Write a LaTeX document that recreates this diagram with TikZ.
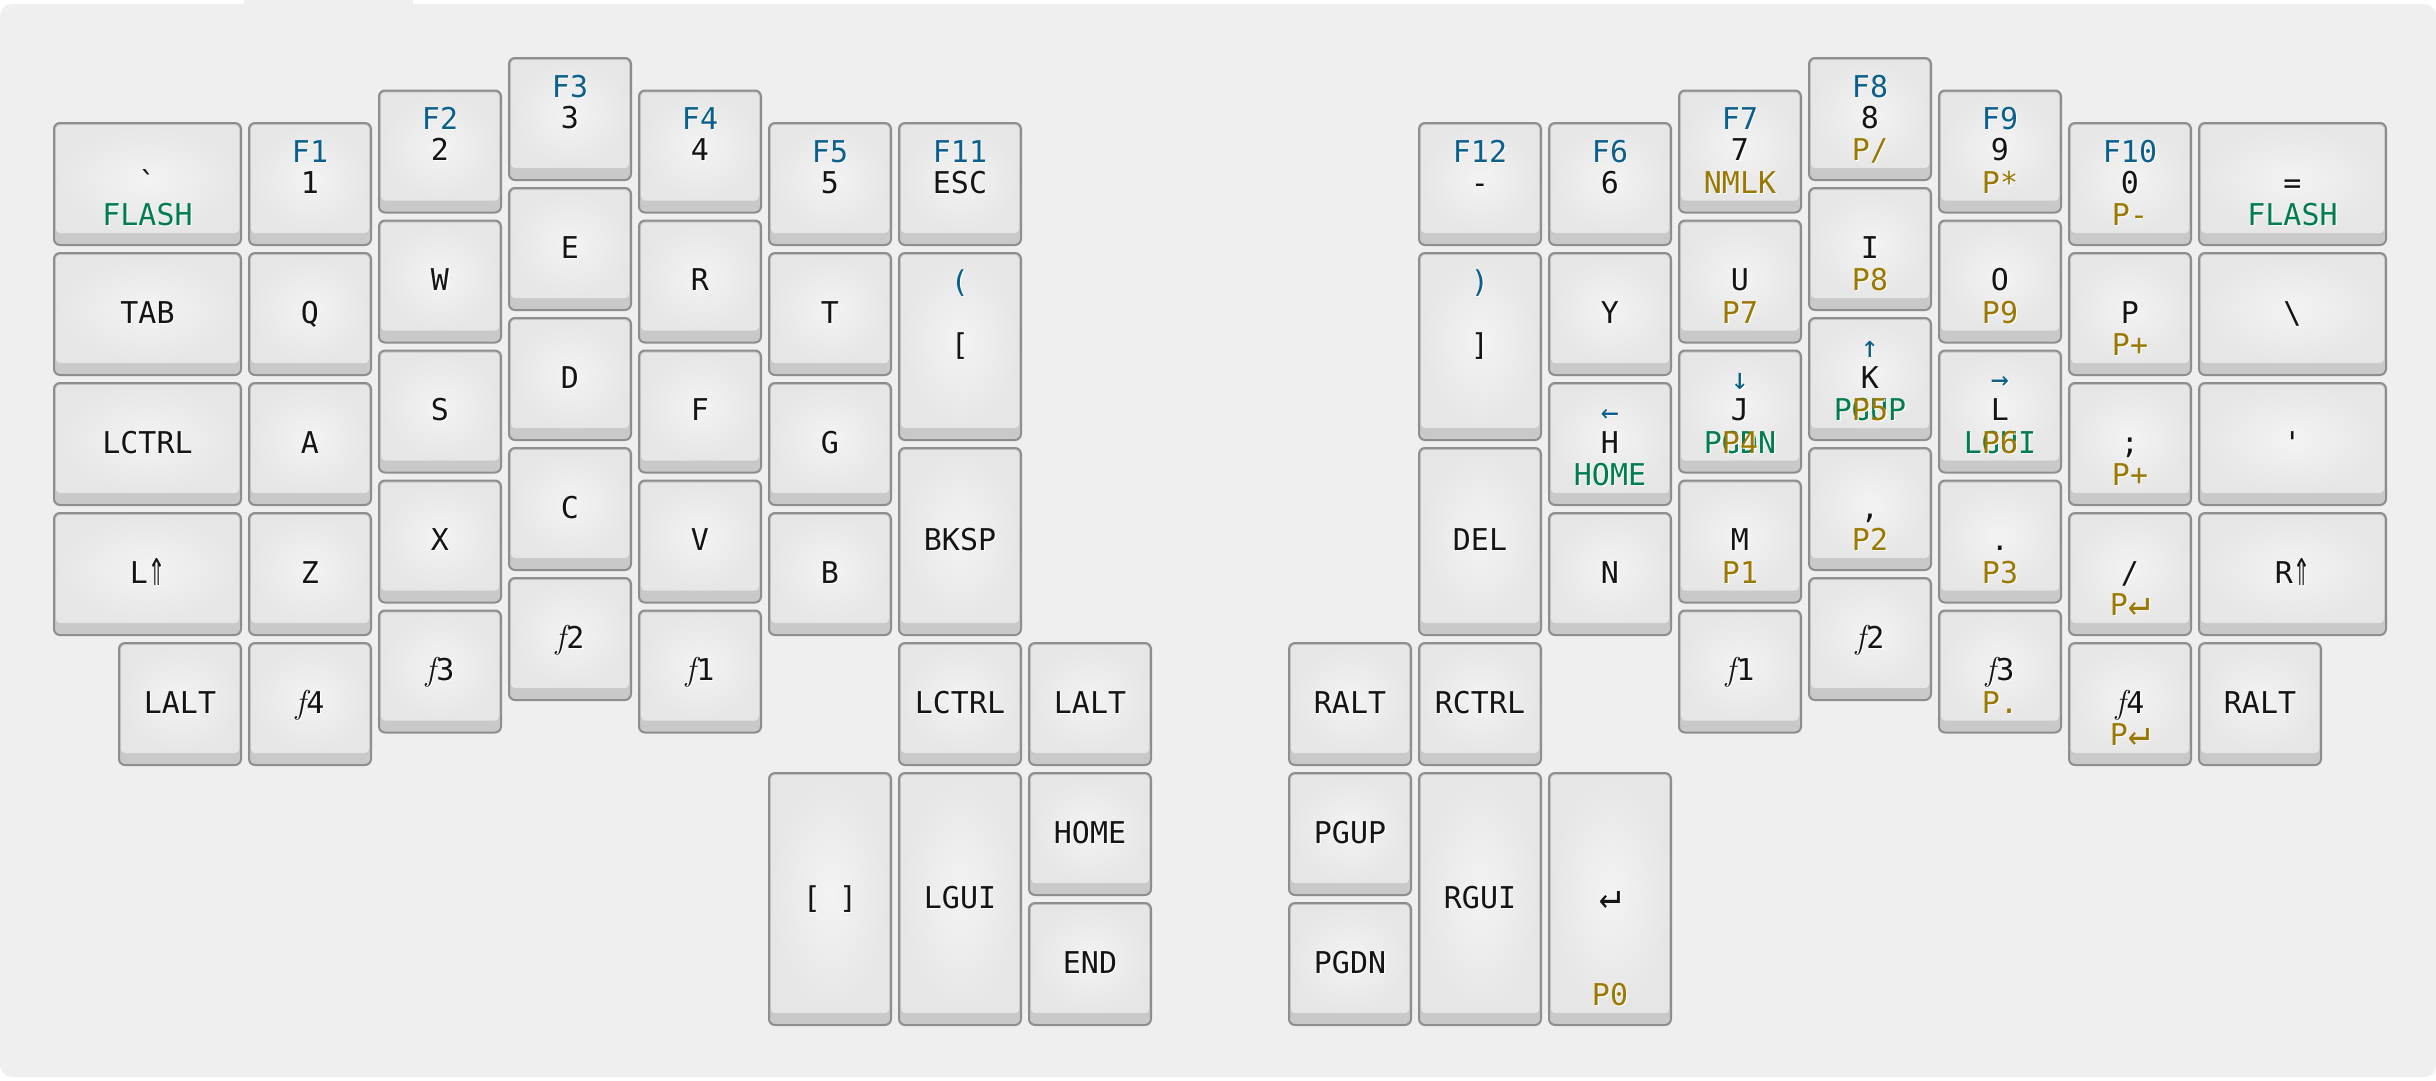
\documentclass[tikz,border=0pt]{standalone}
\usepackage{fontspec}
\setmonofont{DejaVu Sans Mono}
\definecolor{bgc}{RGB}{239,239,239}
\definecolor{keyborder}{RGB}{142,142,142}
\definecolor{bevel}{RGB}{201,201,201}
\definecolor{facein}{RGB}{243,243,243}
\definecolor{faceout}{RGB}{230,230,230}
\definecolor{keytext}{RGB}{20,20,20}
\definecolor{cBlue}{RGB}{10,95,140}
\definecolor{cGreen}{RGB}{0,125,78}
\definecolor{cGold}{RGB}{155,120,0}
\newcommand\sh[1]{\makebox[0pt][l]{\kern1.2pt\raisebox{-1.2pt}{\color{white}#1}}#1}
\newcommand\kb[5]{%
  \node[keyouter, minimum width={130*#4-8}, minimum height={130*#5-8}] (#1) at ({#2+65*#4},{#3+65*#5}) {};
  \path[keyface] ([xshift=2pt,yshift=-2pt]#1.north west) rectangle ([xshift=-2pt,yshift=12pt]#1.south east);}
\newcommand\lt[3][]{\node[lg,lblue,#1] (#2-t) at ([yshift=-39pt]#2.north) {\sh{#3}};}
\newcommand\lc[3][]{\node[lg,#1] (#2-c) at ([yshift=-9pt]#2.center) {\sh{#3}};}
\newcommand\lb[3][]{\node[lg,lgold,#1] (#2-b) at ([yshift=19.5pt]#2.south) {\sh{#3}};}
\newcommand\lbb[3][]{\node[lg,lgold,#1] (#2-bb) at ([yshift=19.5pt]#2.south) {\sh{#3}};}
\newcommand\fn{{\rmfamily\itshape\fontsize{33pt}{36pt}\selectfont f\kern1pt}}
\newcommand\dup{\raisebox{-2pt}{\resizebox{17pt}{27pt}{⇑}}}
\newcommand\ent{\resizebox{22pt}{17pt}{↵}}
\tikzset{
  keyouter/.style={draw=keyborder, line width=2pt, fill=bevel, rounded corners=6pt, inner sep=0pt, outer sep=0pt},
  keyface/.style={inner color=facein, outer color=faceout, rounded corners=4pt},
  lg/.style={anchor=base, inner sep=0pt, outer sep=0pt, text=keytext, font=\ttfamily\fontsize{30pt}{36pt}\selectfont},
  lblue/.style={text=cBlue},
  lgreen/.style={text=cGreen},
  lgold/.style={text=cGold}
}
\begin{document}
\begin{tikzpicture}[x=1pt,y=-1pt]
\useasboundingbox (0,0) rectangle (2436,1080);
\fill[white] (0,0) rectangle (2436,1080);
\fill[bgc, rounded corners=12pt] (0,4) rectangle (2436,1077);
\fill[bgc] (244,0) rectangle (413,5);
% ---------- left half ----------
\kb{grave}{50}{119}{1.5}{1} \lc{grave}{\symbol{96}} \lb[lgreen]{grave}{FLASH}
\kb{tab}{50}{249}{1.5}{1} \lc{tab}{TAB}
\kb{lctl}{50}{379}{1.5}{1} \lc{lctl}{LCTRL}
\kb{lsft}{50}{509}{1.5}{1} \lc{lsft}{L\dup}
\kb{lalt}{115}{639}{1}{1} \lc{lalt}{LALT}
\kb{one}{245}{119}{1}{1} \lt{one}{F1} \lc{one}{1}
\kb{q}{245}{249}{1}{1} \lc{q}{Q}
\kb{a}{245}{379}{1}{1} \lc{a}{A}
\kb{z}{245}{509}{1}{1} \lc{z}{Z}
\kb{lffour}{245}{639}{1}{1} \lc{lffour}{\fn4}
\kb{two}{375}{86.5}{1}{1} \lt{two}{F2} \lc{two}{2}
\kb{w}{375}{216.5}{1}{1} \lc{w}{W}
\kb{s}{375}{346.5}{1}{1} \lc{s}{S}
\kb{x}{375}{476.5}{1}{1} \lc{x}{X}
\kb{lfthree}{375}{606.5}{1}{1} \lc{lfthree}{\fn3}
\kb{three}{505}{54}{1}{1} \lt{three}{F3} \lc{three}{3}
\kb{e}{505}{184}{1}{1} \lc{e}{E}
\kb{d}{505}{314}{1}{1} \lc{d}{D}
\kb{c}{505}{444}{1}{1} \lc{c}{C}
\kb{lftwo}{505}{574}{1}{1} \lc{lftwo}{\fn2}
\kb{four}{635}{86.5}{1}{1} \lt{four}{F4} \lc{four}{4}
\kb{r}{635}{216.5}{1}{1} \lc{r}{R}
\kb{f}{635}{346.5}{1}{1} \lc{f}{F}
\kb{v}{635}{476.5}{1}{1} \lc{v}{V}
\kb{lfone}{635}{606.5}{1}{1} \lc{lfone}{\fn1}
\kb{five}{765}{119}{1}{1} \lt{five}{F5} \lc{five}{5}
\kb{t}{765}{249}{1}{1} \lc{t}{T}
\kb{g}{765}{379}{1}{1} \lc{g}{G}
\kb{b}{765}{509}{1}{1} \lc{b}{B}
\kb{esc}{895}{119}{1}{1} \lt{esc}{F11} \lc{esc}{ESC}
\kb{lbrk}{895}{249}{1}{1.5} \lt{lbrk}{(} \lc{lbrk}{[}
\kb{bksp}{895}{444}{1}{1.5} \lc{bksp}{BKSP}
\kb{tlctl}{895}{639}{1}{1} \lc{tlctl}{LCTRL}
\kb{tlalt}{1025}{639}{1}{1} \lc{tlalt}{LALT}
\kb{brks}{765}{769}{1}{2} \lc{brks}{[ ]}
\kb{lgui}{895}{769}{1}{2} \lc{lgui}{LGUI}
\kb{home}{1025}{769}{1}{1} \lc{home}{HOME}
\kb{tend}{1025}{899}{1}{1} \lc{tend}{END}
% ---------- right half ----------
\kb{minus}{1415}{119}{1}{1} \lt{minus}{F12} \lc{minus}{-}
\kb{rbrk}{1415}{249}{1}{1.5} \lt{rbrk}{)} \lc{rbrk}{]}
\kb{del}{1415}{444}{1}{1.5} \lc{del}{DEL}
\kb{six}{1545}{119}{1}{1} \lt{six}{F6} \lc{six}{6}
\kb{y}{1545}{249}{1}{1} \lc{y}{Y}
\kb{h}{1545}{379}{1}{1} \lt{h}{←} \lc{h}{H} \lb[lgreen]{h}{HOME}
\kb{n}{1545}{509}{1}{1} \lc{n}{N}
\kb{seven}{1675}{86.5}{1}{1} \lt{seven}{F7} \lc{seven}{7} \lb{seven}{NMLK}
\kb{u}{1675}{216.5}{1}{1} \lc{u}{U} \lb{u}{P7}
\kb{j}{1675}{346.5}{1}{1} \lt{j}{↓} \lc{j}{J} \lb[lgreen]{j}{PGDN} \lbb{j}{P4}
\kb{m}{1675}{476.5}{1}{1} \lc{m}{M} \lb{m}{P1}
\kb{rfone}{1675}{606.5}{1}{1} \lc{rfone}{\fn1}
\kb{eight}{1805}{54}{1}{1} \lt{eight}{F8} \lc{eight}{8} \lb{eight}{P/}
\kb{i}{1805}{184}{1}{1} \lc{i}{I} \lb{i}{P8}
\kb{k}{1805}{314}{1}{1} \lt{k}{↑} \lc{k}{K} \lb[lgreen]{k}{PGUP} \lbb{k}{P5}
\kb{comma}{1805}{444}{1}{1} \lc{comma}{,} \lb{comma}{P2}
\kb{rftwo}{1805}{574}{1}{1} \lc{rftwo}{\fn2}
\kb{nine}{1935}{86.5}{1}{1} \lt{nine}{F9} \lc{nine}{9} \lb{nine}{P*}
\kb{o}{1935}{216.5}{1}{1} \lc{o}{O} \lb{o}{P9}
\kb{l}{1935}{346.5}{1}{1} \lt{l}{→} \lc{l}{L} \lb[lgreen]{l}{LGUI} \lbb{l}{P6}
\kb{dot}{1935}{476.5}{1}{1} \lc{dot}{.} \lb{dot}{P3}
\kb{rfthree}{1935}{606.5}{1}{1} \lc{rfthree}{\fn3} \lb{rfthree}{P.}
\kb{zero}{2065}{119}{1}{1} \lt{zero}{F10} \lc{zero}{0} \lb{zero}{P-}
\kb{p}{2065}{249}{1}{1} \lc{p}{P} \lb{p}{P+}
\kb{semi}{2065}{379}{1}{1} \lc{semi}{;} \lb{semi}{P+}
\kb{slash}{2065}{509}{1}{1} \lc{slash}{/} \lb{slash}{P\ent}
\kb{rffour}{2065}{639}{1}{1} \lc{rffour}{\fn4} \lb{rffour}{P\ent}
\kb{equal}{2195}{119}{1.5}{1} \lc{equal}{=} \lb[lgreen]{equal}{FLASH}
\kb{bsl}{2195}{249}{1.5}{1} \lc{bsl}{\textbackslash}
\kb{quote}{2195}{379}{1.5}{1} \lc{quote}{\symbol{39}}
\kb{rsft}{2195}{509}{1.5}{1} \lc{rsft}{R\dup}
\kb{ralt}{2195}{639}{1}{1} \lc{ralt}{RALT}
\kb{tralt}{1285}{639}{1}{1} \lc{tralt}{RALT}
\kb{trctl}{1415}{639}{1}{1} \lc{trctl}{RCTRL}
\kb{pgup}{1285}{769}{1}{1} \lc{pgup}{PGUP}
\kb{pgdn}{1285}{899}{1}{1} \lc{pgdn}{PGDN}
\kb{rgui}{1415}{769}{1}{2} \lc{rgui}{RGUI}
\kb{ent}{1545}{769}{1}{2} \lc{ent}{\ent} \lb{ent}{P0}
\end{tikzpicture}
\end{document}
